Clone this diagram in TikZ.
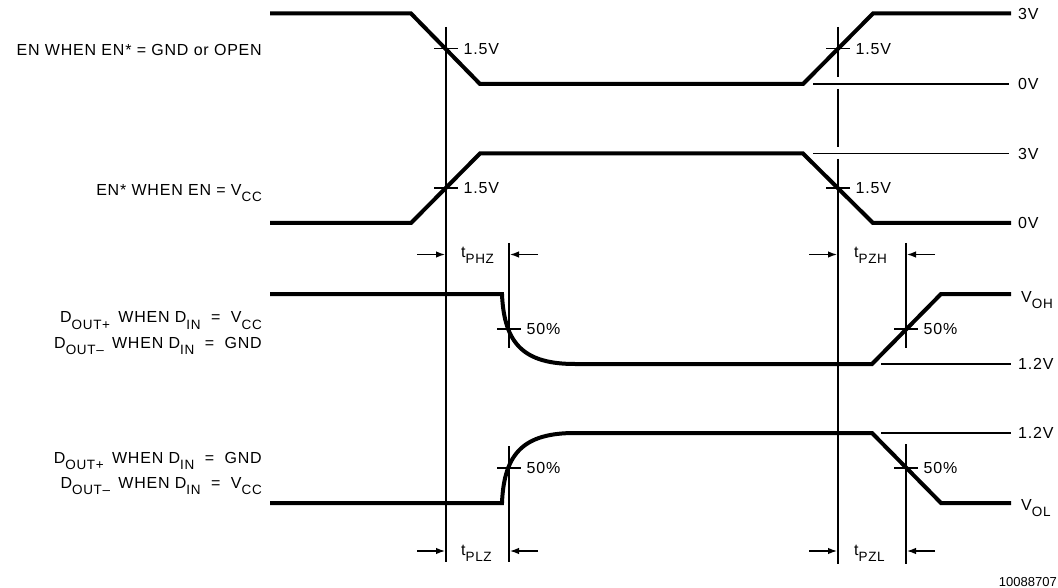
\documentclass[tikz,border=0pt]{standalone}
\usepackage{fontspec}
\setmainfont{Liberation Sans}
\newfontfamily\lblfont[LetterSpace=5]{Liberation Sans}
\usetikzlibrary{positioning, arrows.meta, calc}
\newcommand{\lo}[1]{\raisebox{-6pt}{\fontsize{13.5}{14}\selectfont #1}}

\begin{document}
\begin{tikzpicture}[x=1pt, y=-1pt,
    wave/.style={line width=4pt, line join=miter},
    ref/.style={line width=1.3pt},
    lbl/.style={font=\lblfont\fontsize{16}{19}\selectfont, inner sep=0pt},
    arr/.style={-{Latex[length=9pt, width=6.5pt]}, line width=1.3pt}
]
\useasboundingbox (0,0) rectangle (1058,588);

\draw[wave] (270,13.5) -- (411,13.5) -- (480,84) -- (803,84) -- (873,13.5) -- (1011,13.5);
\draw[wave] (270,223) -- (411,223) -- (480,153.5) -- (803,153.5) -- (873,223) -- (1011,223);
\draw[wave] (270,294) -- (502,294) .. controls (504,345) and (525,364) .. (575,364)
    -- (872,364) -- (941,294) -- (1011,294);
\draw[wave] (270,503) -- (502,503) .. controls (504,452) and (525,433) .. (575,433)
    -- (872,433) -- (941,503) -- (1011,503);

\draw[ref] (813,84) -- (1009,84);
\draw[ref] (813,153.5) -- (1009,153.5);
\draw[ref] (881,364) -- (1011,364);
\draw[ref] (881,433) -- (1011,433);

\draw[ref] (446,27) -- (446,562);
\draw[ref] (838,27) -- (838,77) (838,89) -- (838,147) (838,159) -- (838,564);
\draw[ref] (509,243) -- (509,348) (509,446) -- (509,562);
\draw[ref] (906,243) -- (906,348) (906,444) -- (906,564);

\foreach \x/\y/\t in {446/48.75/1.5V, 838/48.75/1.5V, 446/188/1.5V, 838/188/1.5V,
                      509/329/50\%, 906/329/50\%, 509/468/50\%, 906/468/50\%}
    \draw[ref] (\x-12,\y) -- (\x+12,\y) node[lbl, right=5pt] {\t};

\foreach \y/\t in {13.5/3V, 84/0V, 153.5/3V, 223/0V, 364/1.2V, 433/1.2V}
    \node[lbl, anchor=west] at (1018,\y) {\t};
\node[lbl, anchor=base west] (voh) at (1021,302) {V\lo{OH}};
\node[lbl, anchor=base west] (vol) at (1021,510) {V\lo{OL}};

\coordinate (phzL) at (445,254.5);
\coordinate (phzR) at (510,254.5);
\coordinate (plzL) at (445,551);
\coordinate (plzR) at (510,551);
\coordinate (pzhL) at (837,254.5);
\coordinate (pzhR) at (907,254.5);
\coordinate (pzlL) at (837,551);
\coordinate (pzlR) at (907,551);
\foreach \n in {phz, plz, pzh, pzl} {
    \draw[arr] ($(\n L)+(-28,0)$) -- (\n L);
    \draw[arr] ($(\n R)+(28,0)$) -- (\n R);
}
\node[lbl, anchor=base west] (tphz) at (461,258) {t\lo{PHZ}};
\node[lbl, anchor=base west] (tplz) at (461,555) {t\lo{PLZ}};
\node[lbl, anchor=base west] (tpzh) at (854,258) {t\lo{PZH}};
\node[lbl, anchor=base west] (tpzl) at (854,555) {t\lo{PZL}};

\node[lbl, anchor=base east] (en)   at (262,55.5) {EN WHEN EN* = GND or OPEN};
\node[lbl, anchor=base east] (ens)  at (262,196) {EN* WHEN EN = V\lo{CC}};
\node[lbl, anchor=base east] (dhp)  at (262,323) {D\lo{OUT+}\hspace{3pt} WHEN D\lo{IN} \ = \ V\lo{CC}};
\node[lbl, anchor=base east] (dhm)  at (262,348) {D\lo{OUT–}\hspace{3pt} WHEN D\lo{IN} \ = \ GND};
\node[lbl, anchor=base east] (dlp)  at (262,463) {D\lo{OUT+}\hspace{3pt} WHEN D\lo{IN} \ = \ GND};
\node[lbl, anchor=base east] (dlm)  at (262,488.5) {D\lo{OUT–}\hspace{3pt} WHEN D\lo{IN} \ = \ V\lo{CC}};

\node[font=\fontsize{13}{15}\selectfont, inner sep=0pt, anchor=base east] (fig) at (1057,586) {10088707};
\end{tikzpicture}
\end{document}
